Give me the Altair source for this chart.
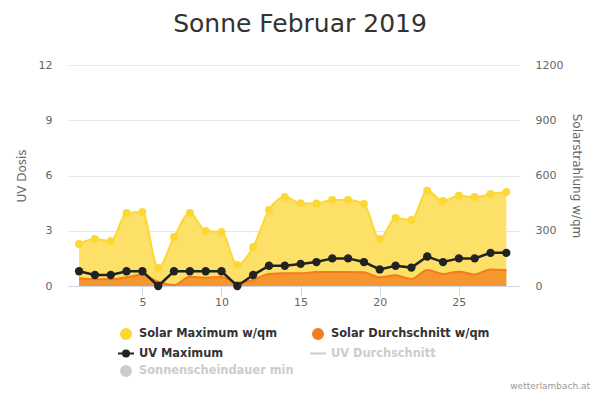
import altair as alt
import pandas as pd

# ---- data ----
days = list(range(1, 29))
solar_max = [228, 255, 244, 396, 402, 98, 266, 396, 299, 293, 114, 212, 413, 483,
             449, 448, 467, 467, 445, 255, 369, 358, 517, 461, 490, 483, 499, 510]
solar_avg = [42, 36, 36, 47, 61, 23, 5, 50, 45, 49, 18, 33, 65, 69,
             69, 76, 76, 76, 74, 47, 58, 38, 87, 65, 78, 63, 90, 87]
uv_max = [0.8, 0.6, 0.6, 0.8, 0.8, 0.0, 0.8, 0.8, 0.8, 0.8, 0.0, 0.6, 1.1, 1.1,
          1.2, 1.3, 1.5, 1.5, 1.3, 0.9, 1.1, 1.0, 1.6, 1.3, 1.5, 1.5, 1.8, 1.8]

series_names = ["Solar Maximum w/qm", "Solar Durchschnitt w/qm", "UV Maximum",
                "UV Durchschnitt", "Sonnenscheindauer min"]
series_colors = ["#FDD835", "#F47B20", "#222222", "#cccccc", "#cccccc"]
hidden_series = ["UV Durchschnitt", "Sonnenscheindauer min"]

uv_ticks = [0, 3, 6, 9, 12]
solar_ticks = [0, 300, 600, 900, 1200]
x_ticks = [5, 10, 15, 20, 25]

title_text = ["Sonne Februar 2019"]
credit_text = ["wetterlambach.at"]

FONT = "DejaVu Sans"

df = pd.DataFrame({"day": days, "smax": solar_max, "savg": solar_avg, "uv": uv_max})
df_leg = pd.DataFrame({"series": series_names, "day": [None] * 5, "uv": [None] * 5})
df_credit = pd.DataFrame({"t": credit_text})
df_title = pd.DataFrame({"t": title_text})

# legend symbol paths
circle = "M-0.625,0A0.625,0.625,0,1,1,0.625,0A0.625,0.625,0,1,1,-0.625,0Z"
line_dot = "M-1,0L1,0M-0.375,0A0.375,0.375,0,1,1,0.375,0A0.375,0.375,0,1,1,-0.375,0Z"
line_only = "M-1,0L1,0"
shapes = [circle, circle, line_dot, line_only, circle]

x_enc = alt.X("day:Q", scale=alt.Scale(domain=[0.3, 28.8], nice=False, zero=False),
              axis=alt.Axis(values=x_ticks, title=None, grid=False, tickSize=10,
                            tickColor="#ccd6eb", domainColor="#ccd6eb",
                            labelColor="#666666", labelFontSize=11, labelFont=FONT,
                            labelPadding=0))

solar_scale = alt.Scale(domain=[0, 1200], nice=False)
solar_axis = alt.Axis(orient="right", values=solar_ticks, format="d", grid=False,
                      ticks=False, tickSize=0, domain=False, labelPadding=16,
                      labelColor="#666666", labelFontSize=11, labelFont=FONT,
                      title="Solarstrahlung w/qm", titleFont=FONT, titleFontSize=12,
                      titleFontWeight="normal", titleColor="#666666", titlePadding=7)
uv_scale = alt.Scale(domain=[0, 12], nice=False)
uv_axis = alt.Axis(orient="left", values=uv_ticks, grid=True, gridColor="#e6e6e6",
                   ticks=False, tickSize=0, domain=False, labelPadding=16,
                   labelColor="#666666", labelFontSize=11, labelFont=FONT,
                   title="UV Dosis", titleFont=FONT, titleFontSize=12,
                   titleFontWeight="normal", titleColor="#666666", titlePadding=10)

base = alt.Chart(df)

y_smax = alt.Y("smax:Q", scale=solar_scale, axis=solar_axis)
y_savg = alt.Y("savg:Q", scale=solar_scale, axis=solar_axis)

yellow_area = base.mark_area(interpolate="monotone", color="#FCE068").encode(x=x_enc, y=y_smax)
yellow_line = base.mark_line(interpolate="monotone", color="#FDD835", strokeWidth=2).encode(x=x_enc, y=y_smax)
yellow_pts = base.mark_circle(size=64, color="#FDD835", opacity=1).encode(x=x_enc, y=y_smax)
orange_area = base.mark_area(interpolate="monotone", color="#F6962F").encode(x=x_enc, y=y_savg)
orange_line = base.mark_line(interpolate="monotone", color="#F47B20", strokeWidth=2).encode(x=x_enc, y=y_savg)

solar_layer = alt.layer(yellow_area, yellow_line, yellow_pts, orange_area, orange_line)

y_uv = alt.Y("uv:Q", scale=uv_scale, axis=uv_axis)
uv_line = base.mark_line(color="#222222", strokeWidth=2.5).encode(x=x_enc, y=y_uv)
uv_pts = base.mark_circle(size=70, color="#222222", opacity=1).encode(x=x_enc, y=y_uv)

label_expr = ("indexof(" + str(hidden_series) + ", datum.label) >= 0 ? '#cccccc' : '#333333'")
legend = alt.Legend(orient="none", legendX=49, legendY=260, columns=2, direction="horizontal",
                    title=None, labelFont=FONT, labelFontSize=11.4, labelFontWeight="bold",
                    labelColor=alt.ExprRef(label_expr), symbolSize=256,
                    symbolStrokeWidth=2, labelOffset=4, rowPadding=1.5,
                    columnPadding=12, padding=0, labelLimit=300)
leg_layer = alt.Chart(df_leg).mark_point(filled=True, opacity=1).encode(
    x=alt.X("day:Q", scale=alt.Scale(domain=[0.3, 28.8], nice=False, zero=False)),
    y=alt.Y("uv:Q", scale=uv_scale, axis=uv_axis),
    fill=alt.Fill("series:N", scale=alt.Scale(domain=series_names, range=series_colors), legend=legend),
    stroke=alt.Stroke("series:N", scale=alt.Scale(domain=series_names, range=series_colors), legend=legend),
    shape=alt.Shape("series:N", scale=alt.Scale(domain=series_names, range=shapes), legend=legend),
)

uv_layer = alt.layer(uv_line, uv_pts, leg_layer)

credit = alt.Chart(df_credit).mark_text(align="right", baseline="alphabetic", fontSize=9,
                                        font=FONT, color="#999999").encode(
    x=alt.value(522), y=alt.value(324), text="t:N")

title = alt.Chart(df_title).mark_text(align="center", baseline="alphabetic", fontSize=25,
                                      font=FONT, color="#333333").encode(
    x=alt.value(232), y=alt.value(-33), text="t:N")

chart = alt.layer(solar_layer, uv_layer, credit, title).resolve_scale(y="independent").properties(
    width=451, height=221,
    autosize=alt.AutoSizeParams(type="none"),
    padding={"left": 60, "top": 57, "right": 73, "bottom": 106},
    background="white",
).configure_view(stroke=None)

chart.save("out.html", embed_options={"renderer": "svg", "actions": False})
